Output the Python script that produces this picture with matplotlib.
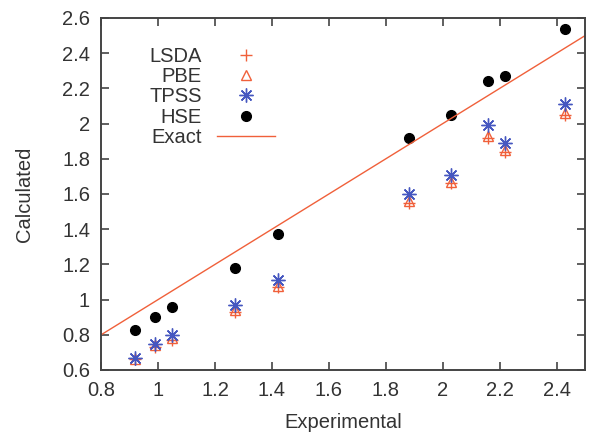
import matplotlib
matplotlib.use("Agg")
import matplotlib.pyplot as plt

plt.rcParams['font.family'] = ['Liberation Sans', 'DejaVu Sans']

experimental = [0.92, 0.99, 1.05, 1.27, 1.42, 1.88, 2.03, 2.16, 2.22, 2.43]
lsda = [0.66, 0.73, 0.77, 0.93, 1.07, 1.55, 1.66, 1.92, 1.84, 2.05]
pbe = [0.66, 0.74, 0.78, 0.94, 1.08, 1.56, 1.67, 1.93, 1.85, 2.06]
tpss = [0.67, 0.75, 0.80, 0.97, 1.11, 1.60, 1.71, 1.99, 1.89, 2.11]
hse = [0.83, 0.90, 0.96, 1.18, 1.37, 1.92, 2.05, 2.24, 2.27, 2.54]
exact_x = [0.8, 2.5]

xticks = [0.8, 1, 1.2, 1.4, 1.6, 1.8, 2, 2.2, 2.4]
yticks = [0.6, 0.8, 1, 1.2, 1.4, 1.6, 1.8, 2, 2.2, 2.4, 2.6]

orange = '#f0603a'
blue = '#4657c0'
txt = '#333333'
fs = 14.5

fig = plt.figure(figsize=(6.02, 4.44), dpi=100)
ax = fig.add_axes([0.168, 0.1667, 0.804, 0.7928])

ax.plot(experimental, lsda, linestyle='none', marker='+', color=orange, ms=9, mew=1.0, label='LSDA')
ax.plot(experimental, pbe, linestyle='none', marker='^', color=orange, mfc='none', ms=7, mew=1.0, label='PBE')
ax.plot(experimental, tpss, linestyle='none', marker=(8, 2, 0), color=blue, ms=10, mew=1.0, label='TPSS')
ax.plot(experimental, hse, linestyle='none', marker='o', color='black', ms=7, label='HSE')
ax.plot(exact_x, exact_x, color=orange, lw=1.0, label='Exact')

ax.set_xlim(0.8, 2.5)
ax.set_ylim(0.6, 2.6)
ax.set_xticks(xticks)
ax.set_yticks(yticks)
ax.set_xticklabels(['0.8', '1', '1.2', '1.4', '1.6', '1.8', '2', '2.2', '2.4'])
ax.set_yticklabels(['0.6', '0.8', '1', '1.2', '1.4', '1.6', '1.8', '2', '2.2', '2.4', '2.6'])
ax.tick_params(direction='in', top=True, right=True, length=6, width=1.2, colors='#444444',
               labelcolor=txt, labelsize=fs, pad=8)
for s in ax.spines.values():
    s.set_color('#444444')
    s.set_linewidth(1.4)

ax.set_xlabel('Experimental', fontsize=fs, color=txt, labelpad=9)
ax.set_ylabel('Calculated', fontsize=fs, color=txt, labelpad=20)

leg = ax.legend(loc='upper right', bbox_to_anchor=(0.397, 0.97), frameon=False, markerfirst=False,
                fontsize=fs, handlelength=2.9, labelspacing=0.07, handletextpad=0.75)
for t in leg.get_texts():
    t.set_color(txt)

fig.savefig('out.png', dpi=100)
